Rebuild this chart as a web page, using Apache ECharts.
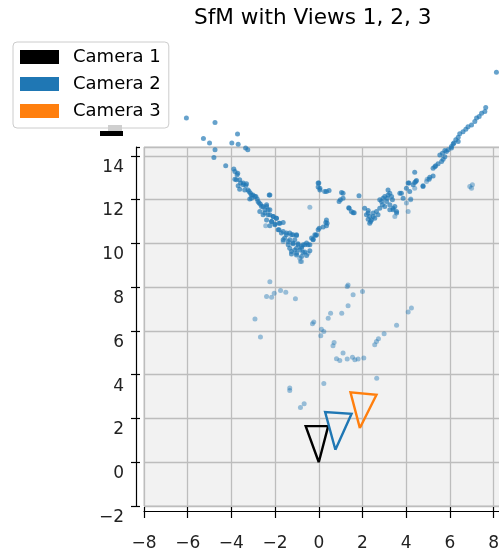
<!DOCTYPE html>
<html>
<head>
<meta charset="utf-8">
<script src="https://cdn.jsdelivr.net/npm/echarts@6/dist/echarts.min.js"></script>
<style>
  html, body { margin: 0; padding: 0; background: #fff; }
  #chart { width: 499px; height: 559px; }
</style>
</head>
<body>
<div id="chart"></div>
<script>
// Reconstructed scene seen from above: X (horizontal) against Y (vertical)
const titleText = 'SfM with Views 1, 2, 3';
const cameraNames = ['Camera 1', 'Camera 2', 'Camera 3'];
const cameraColors = ['#000000', '#1f77b4', '#ff7f0e'];

// Camera frusta outlines: apex, image-plane left corner, right corner, back to apex
const camera1 = [[0, 0], [-0.6, 1.65], [0.43, 1.65], [0, 0]];
const camera2 = [[0.76, 0.57], [0.29, 2.29], [1.5, 2.21], [0.76, 0.57]];
const camera3 = [[1.88, 1.56], [1.45, 3.19], [2.64, 3.08], [1.88, 1.56]];

// Triangulated points, closer to the viewer (darker)
const cloudNear = [
  [-6.06,15.72],[-4.75,15.52],[-5.28,14.79],[-5.0,14.58],[-4.75,14.27],[-4.8,13.92],
  [-3.72,14.99],[-3.98,14.58],[-3.69,14.53],[-3.35,14.35],[-3.25,14.27],[-4.26,13.54],
  [-3.89,13.39],[-3.71,13.2],[-3.84,12.93],[-3.77,12.9],[-3.58,12.75],[-3.69,12.63],
  [-3.46,12.67],[-3.31,12.72],[-3.62,12.47],[-3.39,12.44],[-3.19,12.37],[-3.08,12.21],
  [-2.93,12.14],[-3.16,12.02],[-2.82,12.02],[-2.73,11.84],[-2.27,12.21],[-2.62,11.68],
  [-2.39,11.68],[-2.47,11.53],[-2.24,11.53],[-2.7,11.45],[-2.55,11.3],[-2.32,11.3],
  [-2.09,11.22],[-2.39,11.07],[-2.16,11.0],[-1.94,11.15],[-2.24,10.8],[-2.01,10.85],
  [-1.82,10.92],[-1.63,10.95],[-1.86,10.62],[-1.71,10.47],[-1.48,10.47],[-1.25,10.39],
  [-1.02,10.39],[-1.56,10.24],[-1.33,10.16],[-1.1,10.16],[-1.4,9.93],[-1.18,9.98],
  [-0.95,9.98],[-0.72,9.93],[-0.49,9.93],[-1.02,9.78],[-0.79,9.78],[-1.25,9.63],
  [-1.02,9.55],[-0.72,9.58],
  [-3.84,13.28],[-3.74,13.13],[-3.62,12.9],[-3.46,12.75],[-3.34,12.64],[-3.24,12.44],
  [-3.13,12.29],[-3.01,12.21],[-2.88,12.14],[-3.08,12.06],[-2.78,11.91],[-2.67,11.79],
  [-2.55,11.68],[-2.39,11.76],[-2.32,11.53],[-2.47,11.38],[-2.24,11.3],[-2.09,11.22],
  [-1.94,11.15],[-2.16,11.0],[-2.01,10.88],[-1.78,10.92],[-1.82,10.62],[-1.63,10.54],
  [-1.48,10.39],[-1.33,10.47],[-1.18,10.39],[-1.02,10.36],[-1.63,10.16],[-1.4,10.08],
  [-1.18,10.01],[-0.95,9.93],[-0.79,9.85],[-0.64,9.93],[-0.41,9.93],[-1.33,9.78],
  [-1.1,9.7],[-0.87,9.7],[-0.64,9.6],[-0.41,9.66],[-1.25,9.51],[-1.02,9.47],
  [-0.79,9.4],[-0.56,9.44],[-0.26,10.16],[-0.14,10.36],[0.02,10.69],[-2.24,12.21],
  [-0.03,10.62],[-0.1,10.39],[-0.26,10.19],[-0.56,10.01],[-0.33,10.24],[-0.18,10.39],
  [0.2,10.74],[0.32,10.95],[0.35,11.07],[0.35,10.8],[0.38,10.92],
  [0.0,12.75],[-0.03,12.57],[0.05,12.44],[0.27,12.37],[0.47,12.41],[0.35,12.37],
  [-0.03,12.75],[0.05,12.52],
  [1.04,12.32],[0.99,11.99],[1.11,12.06],[0.93,11.91],[1.84,12.17],[1.37,11.63],
  [1.49,11.45],[1.62,11.4],[1.11,12.29],[1.39,11.6],[1.57,11.4],
  [2.1,11.6],[2.26,11.5],[2.18,11.3],[2.33,11.22],[2.37,11.0],[2.49,11.38],[2.64,11.45],
  [2.79,11.6],[2.87,11.91],[2.94,12.06],[3.02,12.14],[3.17,12.21],[3.25,12.29],[3.1,11.91],
  [3.25,11.76],[3.37,11.99],[3.48,11.68],[3.56,11.45],[3.25,11.53],[3.02,11.68],[2.26,11.38],
  [2.33,10.92],[2.49,11.22],[2.79,11.99],[3.4,11.6],[3.56,11.38],[3.71,12.29],[3.86,12.06],
  [4.01,12.52],[2.41,11.07],[2.56,11.15],[2.71,11.3],[2.91,11.76],[3.13,12.06],[3.33,12.14],
  [3.4,11.53],[2.26,11.1],[3.17,12.44],
  [4.39,13.25],[4.13,12.75],[4.39,12.78],[4.47,12.87],[4.77,12.59],[5.05,12.93],[5.23,13.08],
  [5.31,13.5],[5.46,13.63],[5.62,13.74],[5.54,14.04],[5.77,13.96],[5.84,14.19],[6.07,14.35],
  [6.15,14.54],[6.38,14.65],[8.13,17.82],[7.64,16.2],[7.6,16.02],[7.45,15.94],[7.34,15.79],
  [7.22,15.72],[7.14,15.56],[6.99,15.41],[6.83,15.33],[6.73,15.21],[6.6,15.1],[6.45,15.0],
  [6.38,14.85],[6.27,14.73],[6.18,14.58],[6.07,14.42],[5.92,14.27],[5.77,14.24],[5.66,14.12],
  [5.69,13.84],[5.35,13.54],[5.23,13.43],[5.08,13.02],[4.77,12.63],[4.44,12.82],[4.32,12.67],
  [4.09,12.75],[4.16,12.37],[3.78,12.29]
];

// Triangulated points, farther from the viewer (lighter)
const cloudFar = [
  [-2.43,10.8],[-1.63,10.08],[-0.49,9.55],[-0.87,9.32],[-0.79,9.17],[-0.84,9.17],
  [-0.41,11.65],[3.48,11.22],[4.01,11.84],[4.09,11.45],[4.21,12.02],[4.39,12.52],
  [4.93,12.82],[4.96,12.93],[4.2,11.99],[6.91,12.59],[7.03,12.67],[6.99,12.52],
  [-2.24,8.24],[-2.39,7.57],[-2.16,7.54],[-2.04,7.72],[-1.75,7.84],[-1.51,7.77],
  [-1.07,7.47],[-2.92,6.54],[-2.67,5.72],[-1.33,3.39],[-1.33,3.28],[-0.67,2.67],
  [-0.84,2.5],[0.23,3.6],[1.34,8.1],[1.3,8.03],[1.57,7.65],[2.0,7.8],[1.34,7.15],
  [1.05,6.81],[0.54,6.81],[0.43,6.58],[-0.23,6.4],[-0.29,6.32],[0.12,6.08],[0.23,5.97],
  [0.09,5.78],[0.7,5.47],[0.65,5.32],[1.11,4.99],[0.81,4.73],[0.96,4.65],[1.3,4.71],
  [1.54,4.8],[1.65,4.68],[1.8,4.71],[2.06,4.76],[2.56,5.37],[2.64,5.52],[2.73,5.64],
  [2.99,5.87],[3.56,6.26],[4.09,6.86],[4.24,7.04],[2.65,3.84]
];

const xRange = [-8, 8.6];
const yRange = [-2, 14.4];
const tickStep = 2;

const font = 'DejaVu Sans';
const chart = echarts.init(document.getElementById('chart'), null, { renderer: 'canvas' });

const gridBox = { left: 144, top: 147, width: 362.7, height: 359, containLabel: false, outerBoundsMode: 'none' };

const cams = [camera1, camera2, camera3];
const minusFmt = v => (v < 0 ? '\u2212' + Math.abs(v) : String(v));

const option = {
  backgroundColor: '#ffffff',
  animation: false,
  title: {
    text: titleText,
    left: 189,
    top: 2,
    textStyle: { fontFamily: font, fontSize: 21.6, fontWeight: 'normal', color: '#000' }
  },
  legend: {
    orient: 'vertical',
    left: 13,
    top: 42,
    data: cameraNames.map(n => ({ name: n, icon: 'rect' })),
    itemWidth: 39,
    itemHeight: 14,
    itemGap: 9,
    padding: [6, 8, 8, 7],
    backgroundColor: 'rgba(255,255,255,0.8)',
    borderColor: '#cccccc',
    borderWidth: 1,
    borderRadius: 4,
    textStyle: { fontFamily: font, fontSize: 18, lineHeight: 18, color: '#000', padding: [0, 0, 0, 9] }
  },
  grid: [
    Object.assign({ show: true, backgroundColor: '#f2f2f2', borderColor: '#c8c8c8', borderWidth: 1 }, gridBox),
    Object.assign({ show: false }, gridBox)
  ],
  xAxis: [
    {
      type: 'value', gridIndex: 0, position: 'bottom', offset: 5,
      min: xRange[0], max: xRange[1], interval: tickStep,
      axisLine: { show: true, onZero: false, lineStyle: { color: '#000', width: 1.2 } },
      axisTick: { show: true, length: 7, lineStyle: { color: '#000', width: 1.2 } },
      axisLabel: { fontFamily: font, fontSize: 17, color: '#222', margin: 24, showMaxLabel: false,
                   formatter: minusFmt },
      splitLine: { show: true, lineStyle: { color: '#bdbdbd', width: 1.3 } }
    },
    {
      type: 'value', gridIndex: 1, position: 'bottom', offset: 5,
      min: xRange[0], max: xRange[1], interval: tickStep,
      axisLine: { show: false, onZero: false },
      axisTick: { show: true, inside: true, length: 4, lineStyle: { color: '#000', width: 1.2 } },
      axisLabel: { show: false },
      splitLine: { show: false }
    }
  ],
  yAxis: [
    {
      type: 'value', gridIndex: 0, position: 'left', offset: 8,
      min: yRange[0], max: yRange[1], interval: tickStep,
      axisLine: { show: true, onZero: false, lineStyle: { color: '#000', width: 1.2 } },
      axisTick: { show: true, length: 5, lineStyle: { color: '#000', width: 1.2 } },
      axisLabel: { fontFamily: font, fontSize: 17, color: '#222', margin: 12, verticalAlign: 'top',
                   padding: [3, 0, 0, 0], showMaxLabel: false, formatter: minusFmt },
      splitLine: { show: true, lineStyle: { color: '#bdbdbd', width: 1.3 } }
    },
    {
      type: 'value', gridIndex: 1, position: 'left', offset: 8,
      min: yRange[0], max: yRange[1], interval: tickStep,
      axisLine: { show: false, onZero: false },
      axisTick: { show: true, inside: true, length: 4, lineStyle: { color: '#000', width: 1.2 } },
      axisLabel: { show: false },
      splitLine: { show: false }
    }
  ],
  series: [
    {
      name: 'cloud far', type: 'scatter', xAxisIndex: 0, yAxisIndex: 0,
      data: cloudFar, symbolSize: 5, clip: false, silent: true,
      itemStyle: { color: 'rgba(31,119,180,0.55)' }
    },
    {
      name: 'cloud near', type: 'scatter', xAxisIndex: 0, yAxisIndex: 0,
      data: cloudNear, symbolSize: 5, clip: false, silent: true,
      itemStyle: { color: 'rgba(31,119,180,0.85)' }
    }
  ].concat(cams.map((c, i) => ({
    name: cameraNames[i], type: 'line', xAxisIndex: 0, yAxisIndex: 0,
    data: c, showSymbol: false, symbol: 'none', clip: false,
    color: cameraColors[i],
    lineStyle: { color: cameraColors[i], width: 2.4, join: 'miter' },
    itemStyle: { color: cameraColors[i] }
  }))),
  graphic: [
    // degenerate vertical axis seen end-on
    { type: 'rect', shape: { x: 108, y: 125, width: 14, height: 6 }, style: { fill: '#cfcfcf' }, z: 100 },
    { type: 'rect', shape: { x: 100, y: 131, width: 23, height: 5 }, style: { fill: '#000' }, z: 100 }
  ]
};

chart.setOption(option);
</script>
</body>
</html>
